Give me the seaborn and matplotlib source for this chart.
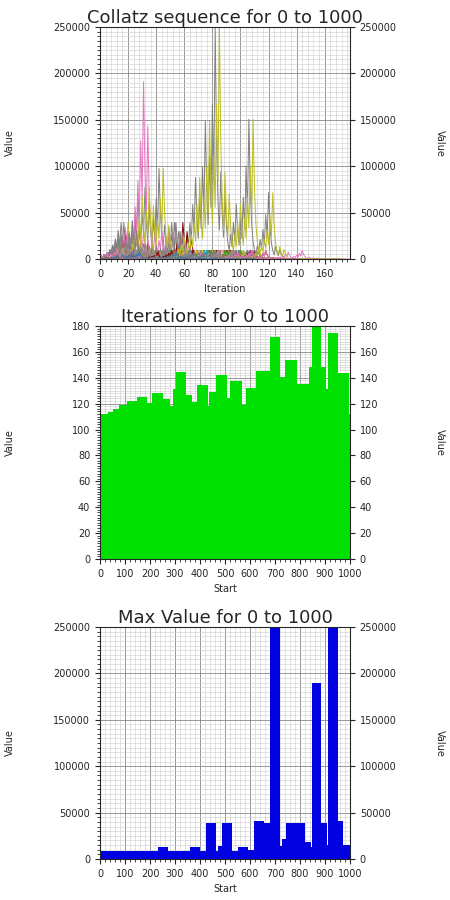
import numpy as np
import pandas as pd
import seaborn as sns
import matplotlib
matplotlib.use("Agg")
import matplotlib.pyplot as plt
from matplotlib.ticker import AutoMinorLocator

# Start values plotted in the top panel
starts = list(range(1, 1001))

# Iterations per start (bin left edges and heights)
iter_edges = [0, 31, 51, 77, 108, 148, 188, 208, 252, 280, 292, 305, 344, 368, 388, 432, 436,
              464, 508, 520, 568, 584, 624, 680, 720, 740, 788, 836, 848, 884, 904, 912, 952, 996, 1000]
iter_values = [111.8, 113.6, 115.6, 118.7, 122, 125, 120.5, 128, 123.6, 118, 131, 144.5, 126.7,
               121.5, 134.4, 118, 129.3, 142, 124.4, 137.5, 119, 132, 145, 171.5, 140.6, 153.7,
               135.4, 148.3, 180, 148, 131, 174.6, 144, 111.8]

# Max value per start
max_edges = [0, 232, 272, 360, 400, 424, 464, 472, 488, 528, 552, 592, 616, 656, 680, 720, 728,
             744, 820, 844, 848, 884, 908, 912, 952, 972, 1000]
max_values = [8900, 12900, 8900, 12900, 8900, 39000, 8900, 14000, 39000, 8900, 12900, 10000,
              40800, 39000, 250000, 14000, 21500, 39000, 18600, 12900, 190000, 39000, 15000,
              250000, 40800, 15000]


def collatz(n):
    seq = [n]
    while n > 1:
        n = n // 2 if n % 2 == 0 else 3 * n + 1
        seq.append(n)
    return seq


rows = []
for s in starts:
    for i, v in enumerate(collatz(s)):
        rows.append((s, i, v))
df = pd.DataFrame(rows, columns=["start", "Iteration", "Value"])

sns.set_style("ticks")
plt.rcParams['font.family'] = ['DejaVu Sans']

fig = plt.figure(figsize=(4.5, 9), dpi=100)
ax1 = fig.add_axes([100/450, 1-259/900, 250/450, 232/900])
ax2 = fig.add_axes([100/450, 1-559/900, 250/450, 233/900])
ax3 = fig.add_axes([100/450, 1-859/900, 250/450, 232/900])

palette = sns.color_palette("tab10") + ["#8b0000", "#00008b", "#ffd700", "#ffb6c1", "#808080", "#0077bb"]
sns.lineplot(data=df, x="Iteration", y="Value", hue="start", palette=palette[:len(palette)] * 100,
             ax=ax1, legend=False, linewidth=0.8, estimator=None) if False else None
for k, (s, g) in enumerate(df.groupby("start")):
    ax1.plot(g["Iteration"], g["Value"], lw=0.7, color=palette[k % len(palette)])
ax1.set_xlim(0, df["Iteration"].max())
ax1.set_ylim(0, 250000)
ax1.set_xticks(range(0, 180, 20))
ax1.set_title("Collatz sequence for 0 to 1000", fontsize=13, pad=3)
ax1.set_xlabel("Iteration", fontsize=7)


def draw_bars(ax, edges, values, color):
    widths = np.diff(edges)
    ax.bar(edges[:-1], values, width=widths, align="edge", color=color, linewidth=0)
    ax.set_xlim(0, 1000)
    ax.set_xticks(range(0, 1001, 100))
    ax.set_xlabel("Start", fontsize=7)


draw_bars(ax2, iter_edges, iter_values, "#00e000")
ax2.set_ylim(0, 180)
ax2.set_title("Iterations for 0 to 1000", fontsize=13, pad=3)

draw_bars(ax3, max_edges, max_values, "#0000e0")
ax3.set_ylim(0, 250000)
ax3.set_title("Max Value for 0 to 1000", fontsize=13, pad=3)

for ax in (ax1, ax2, ax3):
    ax.xaxis.set_minor_locator(AutoMinorLocator(5))
    ax.yaxis.set_minor_locator(AutoMinorLocator(10))
    ax.grid(which="major", color="#888888", lw=0.6)
    ax.grid(which="minor", color="#cccccc", lw=0.4)
    ax.set_axisbelow(True)
    ax.tick_params(labelsize=7, right=True, labelright=True, direction="out")
    ax.set_ylabel("")
    for sp in ax.spines.values():
        sp.set_visible(True)
    bb = ax.get_position()
    ymid = bb.y0 + bb.height / 2
    fig.text(5/450, ymid, "Value", rotation=90, fontsize=7, va="center", ha="left")
    fig.text(445/450, ymid, "Value", rotation=-90, fontsize=7, va="center", ha="right")

fig.savefig("out.png", dpi=100)
